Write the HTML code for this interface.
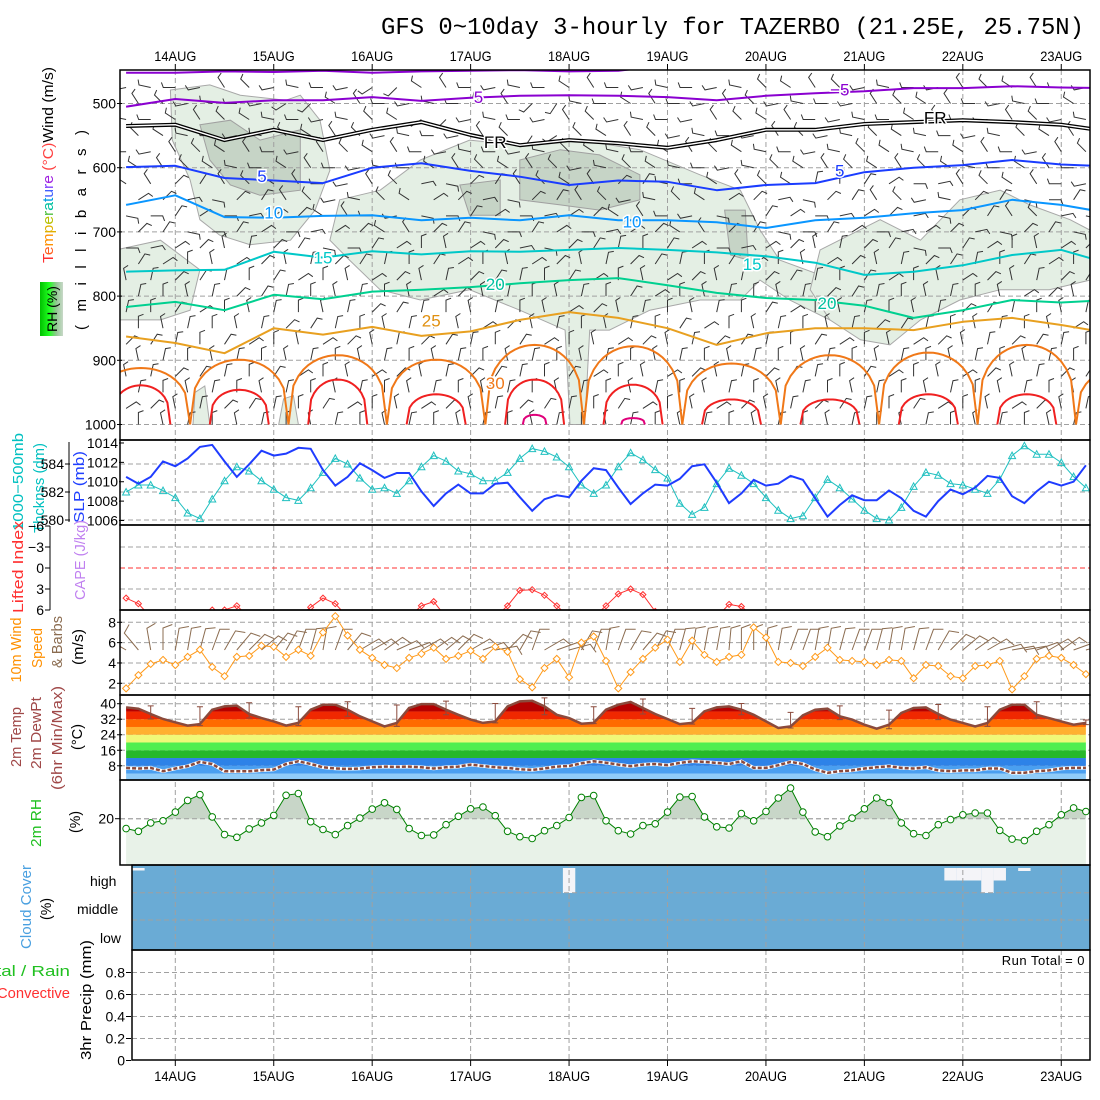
<!DOCTYPE html>
<html><head><meta charset="utf-8"><title>GFS meteogram TAZERBO</title>
<style>
html,body{margin:0;padding:0;background:#fff;}
svg{display:block;font-family:"Liberation Sans",sans-serif;}
</style></head>
<body>
<svg id="chart" xmlns="http://www.w3.org/2000/svg" width="1100" height="1100" viewBox="0 0 1100 1100">
<defs>
<clipPath id="cTop"><rect x="120" y="70" width="970" height="370"/></clipPath>
<clipPath id="cSlp"><rect x="120" y="440" width="970" height="85"/></clipPath>
<clipPath id="cLi"><rect x="120" y="525" width="970" height="85"/></clipPath>
<clipPath id="cW"><rect x="120" y="610" width="970" height="85"/></clipPath>
<clipPath id="cT"><rect x="120" y="695" width="970" height="85"/></clipPath>
<clipPath id="cRH"><rect x="120" y="780" width="970" height="85"/></clipPath>
<clipPath id="cCl"><rect x="132" y="865" width="958" height="85"/></clipPath>
<linearGradient id="rhg" x1="0" y1="0" x2="1" y2="0"><stop offset="0" stop-color="#00c000"/><stop offset="0.4" stop-color="#20ff20"/><stop offset="0.7" stop-color="#90c890"/><stop offset="1" stop-color="#c8d8c8"/></linearGradient>
</defs>
<rect width="1100" height="1100" fill="#fff"/>
<text x="381" y="34" font-family="'Liberation Mono',monospace" font-size="24" textLength="703" lengthAdjust="spacingAndGlyphs" fill="#000">GFS 0~10day 3-hourly for TAZERBO (21.25E, 25.75N)</text>

<g font-size="15">
<text transform="translate(53,165) rotate(-90)" text-anchor="middle" textLength="196" lengthAdjust="spacingAndGlyphs"><tspan fill="#ff3030">T</tspan><tspan fill="#ff6020">e</tspan><tspan fill="#ff9000">m</tspan><tspan fill="#e0b000">p</tspan><tspan fill="#b8c000">e</tspan><tspan fill="#50c040">r</tspan><tspan fill="#00c0a0">a</tspan><tspan fill="#00a0e0">t</tspan><tspan fill="#4060ff">u</tspan><tspan fill="#8040ff">r</tspan><tspan fill="#a020e0">e</tspan><tspan fill="#ff4040"> (°C)</tspan><tspan fill="#000">Wind (m/s)</tspan></text>
<text transform="translate(86,230) rotate(-90)" text-anchor="middle" textLength="200" lengthAdjust="spacing">( m i l l i b a r s )</text>
<rect x="40" y="282" width="23" height="54" fill="url(#rhg)"/>
<text transform="translate(57,309) rotate(-90)" text-anchor="middle" font-size="14">RH (%)</text>
</g>
<g font-size="15">
<text transform="translate(23,482) rotate(-90)" text-anchor="middle" fill="#00c0c0" textLength="98" lengthAdjust="spacingAndGlyphs">1000−500mb</text>
<text transform="translate(44,488) rotate(-90)" text-anchor="middle" fill="#00c0c0" textLength="90" lengthAdjust="spacingAndGlyphs">Thcknss (dm)</text>
<text transform="translate(84,487) rotate(-90)" text-anchor="middle" fill="#2040ff" textLength="72" lengthAdjust="spacingAndGlyphs">SLP (mb)</text>
<text transform="translate(23,567) rotate(-90)" text-anchor="middle" fill="#ff3030" textLength="92" lengthAdjust="spacingAndGlyphs">Lifted Index</text>
<text transform="translate(85,560) rotate(-90)" text-anchor="middle" fill="#c080f0" textLength="80" lengthAdjust="spacingAndGlyphs">CAPE (J/kg)</text>
<text transform="translate(21,650) rotate(-90)" text-anchor="middle" fill="#ff9000" textLength="65" lengthAdjust="spacingAndGlyphs">10m Wind</text>
<text transform="translate(42,648) rotate(-90)" text-anchor="middle" fill="#ff9000" textLength="40" lengthAdjust="spacingAndGlyphs">Speed</text>
<text transform="translate(62,642) rotate(-90)" text-anchor="middle" fill="#8b6c50" textLength="52" lengthAdjust="spacingAndGlyphs">&amp; Barbs</text>
<text transform="translate(83,647) rotate(-90)" text-anchor="middle" fill="#000" textLength="36" lengthAdjust="spacingAndGlyphs">(m/s)</text>
<text transform="translate(21,737) rotate(-90)" text-anchor="middle" fill="#a04848" textLength="60" lengthAdjust="spacingAndGlyphs">2m Temp</text>
<text transform="translate(41,733) rotate(-90)" text-anchor="middle" fill="#a04848" textLength="72" lengthAdjust="spacingAndGlyphs">2m DewPt</text>
<text transform="translate(62,738) rotate(-90)" text-anchor="middle" fill="#a04848" textLength="104" lengthAdjust="spacingAndGlyphs">(6hr Min/Max)</text>
<text transform="translate(82,737) rotate(-90)" text-anchor="middle" fill="#000" textLength="26" lengthAdjust="spacingAndGlyphs">(°C)</text>
<text transform="translate(41,823) rotate(-90)" text-anchor="middle" fill="#20c020" textLength="48" lengthAdjust="spacingAndGlyphs">2m RH</text>
<text transform="translate(80,822) rotate(-90)" text-anchor="middle" fill="#000" textLength="22" lengthAdjust="spacingAndGlyphs">(%)</text>
<text transform="translate(31,907) rotate(-90)" text-anchor="middle" fill="#4aa0e0" textLength="84" lengthAdjust="spacingAndGlyphs">Cloud Cover</text>
<text transform="translate(51,909) rotate(-90)" text-anchor="middle" fill="#000" textLength="22" lengthAdjust="spacingAndGlyphs">(%)</text>
<text x="-4" y="976" fill="#20c020" textLength="74" lengthAdjust="spacingAndGlyphs">tal / Rain</text>
<text x="-3" y="998" fill="#ff3030" textLength="73" lengthAdjust="spacingAndGlyphs">Convective</text>
<text transform="translate(91,1000) rotate(-90)" text-anchor="middle" fill="#000" textLength="120" lengthAdjust="spacingAndGlyphs">3hr Precip (mm)</text>
<text x="90" y="886" font-size="14">high</text>
<text x="77" y="914" font-size="14">middle</text>
<text x="100" y="943" font-size="14">low</text>
<text x="1085" y="965" text-anchor="end" font-size="13" letter-spacing="0.5">Run Total = 0</text>
</g>
<g id="layer"></g>
</svg>
<script>
// ---------- data ----------
const stepHours = 3;
const slp = [1010.5,1009.8,1010.5,1012.1,1011.6,1012.4,1013.6,1013.8,1012.1,1010.5,1011.8,1013.2,1012.7,1012.9,1013.5,1013.4,1011.2,1009.6,1010.5,1011.9,1011.2,1010.4,1010.9,1010.9,1009.0,1007.5,1008.8,1009.7,1008.8,1008.8,1009.8,1009.9,1008.4,1007.0,1008.2,1008.6,1008.4,1010.1,1011.4,1011.2,
1009.4,1007.7,1008.8,1009.7,1009.6,1010.3,1011.6,1011.8,1009.9,1007.8,1008.8,1010.2,1009.6,1009.8,1010.6,1010.2,1008.3,1006.4,1007.6,1008.6,1008.1,1008.1,1009.1,1008.3,1007.0,1006.4,1008.0,1009.2,1008.7,1009.4,1010.6,1010.4,1008.5,1007.8,1009.0,1010.0,1009.6,1010.0,1011.7];
const thick = [582.0,582.5,582.5,582.1,581.6,580.5,580.1,581.5,582.8,583.8,583.5,582.8,582.2,581.6,581.4,582.3,583.4,584.4,584.0,583.0,582.2,582.3,581.9,582.8,583.8,584.6,584.2,583.5,583.3,582.8,582.8,583.4,584.4,585.1,584.9,584.5,583.8,582.5,581.9,582.5,
583.8,584.8,584.3,583.6,583.0,581.2,580.4,580.9,582.6,583.7,583.2,582.6,581.6,580.7,580.1,580.3,581.6,582.9,582.3,581.5,580.7,580.1,580.0,580.9,582.4,583.4,583.2,582.6,582.5,582.2,581.9,582.9,584.6,585.3,584.7,584.7,584.1,583.1,582.3];
const liftedIndex = [4.3,5.1,7,7,7,7,7,6.0,6.0,5.4,7,7,7,7,7,5.6,4.3,5.1,7,7,7,7,7,7,5.4,4.8,7,7,7,7,7,5.4,3.2,3.1,3.9,5.4,7,7,7,5.4,
3.7,3.0,3.8,6.2,7,7,7,7,7,5.2,5.5,7,7,7,7,7,7,7,7,7,7,7,7,7,7,7,7,7,7,7,7,7,7,7,7,7,7,7,7];
const windSpeed = [1.5,2.8,3.9,4.3,3.8,4.6,5.3,3.6,2.7,4.6,4.7,5.7,5.6,4.6,5.3,4.7,7.0,8.6,6.7,5.3,4.5,3.8,3.5,4.5,4.9,5.5,4.4,4.7,5.2,4.4,5.6,5.1,2.4,1.6,3.5,4.4,2.6,6.0,6.6,4.2,
1.5,3.1,4.4,5.5,6.3,4.1,6.2,4.8,4.1,4.6,4.8,7.5,6.5,4.1,4.0,3.7,4.6,5.5,4.3,4.2,4.1,3.8,4.3,4.2,2.5,3.8,3.7,2.7,2.5,3.7,3.8,4.2,1.4,2.7,4.4,4.7,4.5,3.8,2.9];
const windDir10 = [300,320,350,0,10,10,15,20,30,40,45,50,40,30,20,15,10,20,40,60,60,55,65,70,60,55,50,45,60,70,80,45,30,20,60,70,75,30,20,10,
20,30,40,30,20,15,10,10,10,5,0,0,5,10,20,20,10,10,15,20,20,15,10,10,15,20,30,45,50,55,60,75,80,80,70,60,55,70,75];
const temp2m = [38.1,37.4,34.7,32.1,30.4,28.7,29.5,36.9,38.6,39.0,34.7,32.6,30.9,28.7,30.1,36.9,39.5,39.5,36.9,33.5,30.9,28.3,30.1,37.8,39.8,39.8,36.9,34.3,31.8,30.1,30.9,38.6,41.2,41.5,38.6,34.3,32.6,29.7,30.1,36.9,
39.5,40.9,37.8,34.7,32.1,29.5,30.1,36.1,38.1,38.6,36.9,34.3,30.9,27.5,28.3,34.0,36.9,37.4,33.5,31.8,29.2,27.1,29.2,35.2,37.8,38.1,34.7,31.8,30.1,28.3,30.1,36.9,39.5,39.5,34.3,32.6,30.9,29.2,30.1];
const dew2m = [6.9,6.6,6.9,5.2,6.6,7.8,10.0,8.9,5.2,5.2,5.2,5.7,6.1,8.9,10.3,8.9,7.2,6.6,6.4,6.6,7.2,7.6,7.4,7.6,7.2,6.6,7.2,7.6,8.6,7.9,7.2,6.9,6.2,5.9,6.6,7.6,7.9,9.3,10.3,9.6,
8.6,7.8,8.6,8.9,8.3,9.5,10.3,10.0,9.5,8.9,10.3,6.9,6.9,8.3,10.0,8.9,6.1,4.4,5.2,5.6,6.6,7.2,7.8,6.9,6.6,7.2,5.6,5.2,5.6,5.6,6.6,6.6,4.4,4.4,5.2,5.6,6.6,6.9,6.9];
const rh2m = [16.7,15.8,18.6,19.3,22.2,26.1,28.0,20.6,14.7,13.8,16.6,18.6,21.1,27.8,28.4,19.0,16.4,14.7,17.7,20.2,23.2,25.3,23.1,16.7,14.4,14.6,18.0,20.8,23.3,23.9,21.0,15.8,14.0,13.4,16.0,17.7,20.4,27.1,27.7,19.3,
16.0,14.9,17.7,18.3,22.2,27.2,27.4,20.6,17.3,16.9,21.7,19.3,22.4,26.9,30.2,22.2,15.6,14.0,17.6,20.2,23.3,26.9,25.4,18.6,15.0,14.4,18.0,19.7,21.3,21.9,21.9,16.1,13.2,12.7,15.8,18.0,21.3,23.6,22.4];
const highCloudGap = [0.1,0.1,0,0,0,0,0,0,0,0,0,0,0,0,0,0,0,0,0,0,0,0,0,0,0,0,0,0,0,0,0,0,0,0,0,0,1,0,0,0,
0,0,0,0,0,0,0,0,0,0,0,0,0,0,0,0,0,0,0,0,0,0,0,0,0,0,0,0.5,0.5,0.5,1,0.5,0,0.12,0,0,0,0,0];
const dayLabels = ["14AUG","15AUG","16AUG","17AUG","18AUG","19AUG","20AUG","21AUG","22AUG","23AUG"];
const presTicks = [500,600,700,800,900,1000];
const slpTicks = [1014,1012,1010,1008,1006];
const thickTicks = [584,582,580];
const liTicks = [-6,-3,0,3,6];
const windTicks = [8,6,4,2];
const tempTicks = [40,32,24,16,8];
const tempBandEdges = [0,4,8,12,16,20,24,28,32,36,45];
const precipTicks = [0,0.2,0.4,0.6,0.8];
const isoM5top = [452,452,450,451,449,452,450,449,448,450,449,440,430,430,430,430,430,430,430,430,430];
const isoM5 = [505,493,499,495,495,490,496,491,488,487,488,490,495,488,484,481,476,476,473,475,476];
const isoFR = [535,533,557,541,557,541,529,549,565,557,562,569,557,541,541,532,529,526,529,533,544];
const iso5 = [599,597,616,620,624,600,593,605,614,627,620,622,635,627,624,607,600,596,588,595,598];
const iso10 = [658,643,677,678,675,674,682,678,682,674,682,682,685,694,682,678,671,666,650,658,671];
const iso15 = [762,760,759,731,740,730,735,730,731,728,725,728,732,738,748,767,762,752,736,728,750];
const iso20 = [817,809,822,798,805,793,790,786,780,775,772,783,795,803,806,815,834,822,806,810,806];
const iso25 = [863,873,889,850,860,848,862,855,837,825,834,850,876,858,850,850,853,840,834,845,858];
const dome30Top = [912,899,892,899,876,878,905,892,888,876,910];
const dome35Top = [939,946,930,953,930,938,961,961,953,953,1010];
const dome40Top = [1010,1010,1010,1010,985,990,1010,1010,1010,1010,1010];
const rhLight = [
 [[-0.05,479],[0.35,471],[0.66,487],[1.12,495],[1.27,487],[1.47,526],[1.57,604],[1.42,666],[1.17,713],[0.76,720],[0.45,705],[0.25,681],[0.15,619],[-0.03,557]],
 [[1.67,650],[2.08,635],[2.49,588],[2.99,557],[3.50,565],[4.11,557],[4.72,572],[5.33,611],[5.74,635],[5.94,697],[6.14,744],[6.55,767],[6.75,806],[6.65,837],[6.24,806],[5.94,775],[5.74,806],[5.33,806],[4.82,822],[4.41,853],[4.21,853],[4.16,1000],[4.01,1000],[3.96,853],[3.50,822],[2.99,790],[2.49,806],[2.08,790],[1.77,744],[1.57,713]],
 [[-0.6,728],[-0.15,713],[0.25,759],[0.15,822],[-0.15,837],[-0.6,837]],
 [[6.55,728],[7.16,681],[7.57,713],[7.97,650],[8.38,635],[8.68,658],[9.09,681],[9.29,697],[9.29,775],[8.88,790],[8.38,790],[7.97,806],[7.57,837],[7.26,876],[6.96,868],[6.65,837],[6.45,790]],
 [[0.2,950],[0.3,940],[0.35,1000],[0.18,1000]],
 [[1.1,960],[1.2,955],[1.25,1000],[1.05,1000]]
];
const rhDark = [
 [[0.25,533],[0.56,526],[0.86,557],[1.27,541],[1.27,635],[0.86,643],[0.56,627],[0.35,588]],
 [[2.89,627],[3.3,619],[3.3,674],[2.99,674]],
 [[3.5,588],[3.91,572],[4.31,580],[4.72,611],[4.72,650],[4.31,666],[3.91,658],[3.5,650]],
 [[5.58,666],[5.79,666],[5.82,744],[5.64,736]]
];
const barbLevels = [475,500,525,550,575,600,625,650,675,700,725,750,775,800,825,850,875,900,925,950,975,1000];
const barbCodes = [
"66766576676667766776","76657667567676677667","67766756676677667676","76677667577667676677",
"67767766676776676767","77676677767667777676","71776721771677012776","12176712176712176121",
"21217621217621212172","12121712121712121212","21012101210121012101","10101010101010101010",
"01010101010101010101","00100010001000100010","01000100010001000100","00010001000100010001",
"10101010101010101010","00000000000000000000","01010101010101010101","00000000000000000000",
"10101010101010101010","00000000000000000000"];

// ---------- axes ----------
const NS = "http://www.w3.org/2000/svg";
const layer = document.getElementById('layer');
const xH = h => 126.1 + h * 4.1017;
const xI = i => xH(i * stepHours);
const xD = d => 175.3 + d * 98.44;
const yP = p => 103.5 + (p - 500) * 0.642;
const ySlp = v => 520.5 - (v - 1006) * 9.69;
const yTh = v => 520 - (v - 580) * 14;
const yLi = v => 568 + v * 7;
const yW = v => 683.3 - (v - 2) * 10.17;
const yT = v => 703.7 + (40 - v) * 1.94;
const yRH = v => 818.7 - (v - 20) * 3;
const yPr = v => 1060.5 - v * 110;

function mk(tag, attrs, parent) {
  const e = document.createElementNS(NS, tag);
  for (const k in attrs) e.setAttribute(k, attrs[k]);
  (parent || layer).appendChild(e);
  return e;
}
function grp(name, clip) {
  const g = mk('g', clip ? {'clip-path': 'url(#' + clip + ')'} : {});
  
  
  return g;
}
function line(pts, attrs, parent) {
  return mk('polyline', Object.assign({points: pts.map(p => p[0].toFixed(1) + ',' + p[1].toFixed(1)).join(' '), fill: 'none'}, attrs), parent);
}

// ---------- cloud panel ----------
const gCloud = grp('cloud-cover-panel', 'cCl');
const cloudBg = mk('rect', {x: 132, y: 865, width: 958, height: 85, fill: '#6aabd5'}, gCloud);


highCloudGap.forEach((v, i) => {
  if (v <= 0) return;
  const r = mk('rect', {x: xI(i) - 6.2, y: 868, width: 12.4, height: 25 * v, fill: '#f4f4f8'}, gCloud);
  
  
});

// ---------- RH shading (top) ----------
const gTop = grp('upper-air-panel', 'cTop');
rhLight.forEach(poly => {
  const e = mk('polygon', {points: poly.map(p => xD(p[0]).toFixed(1) + ',' + yP(p[1]).toFixed(1)).join(' '), fill: '#e4efe4', stroke: '#a8a8a8', 'stroke-width': 1}, gTop);
  
  
});
rhDark.forEach(poly => {
  const e = mk('polygon', {points: poly.map(p => xD(p[0]).toFixed(1) + ',' + yP(p[1]).toFixed(1)).join(' '), fill: '#c6d4c6', stroke: '#a0a0a0', 'stroke-width': 1}, gTop);
  
  
});

// ---------- grids ----------
const gGrid = grp('grid-lines');
for (let k = 0; k < dayLabels.length; k++) {
  const gl = mk('line', {x1: xD(k), x2: xD(k), y1: 70, y2: 1060, stroke: '#a0a0a0', 'stroke-dasharray': '5,3', 'stroke-width': 1}, gGrid);
  
  
}
function hgrid(y, x0) {
  const gl = mk('line', {x1: x0 || 120, x2: 1090, y1: y, y2: y, stroke: '#a0a0a0', 'stroke-dasharray': '5,3'}, gGrid);
  
  
}
presTicks.forEach(p => hgrid(yP(p)));
thickTicks.forEach(v => hgrid(yTh(v)));
[-3, 3].forEach(v => hgrid(yLi(v)));
windTicks.forEach(v => hgrid(yW(v)));
tempTicks.forEach(v => hgrid(yT(v)));
hgrid(yRH(20));
hgrid(892.7, 132); hgrid(920, 132);
precipTicks.slice(1).forEach(v => hgrid(yPr(v), 132));
const liZero = mk('line', {x1: 120, x2: 1090, y1: yLi(0), y2: yLi(0), stroke: '#ff3030', 'stroke-dasharray': '5,3'}, gGrid);



// ---------- upper barbs ----------
function barb(x, y, deg, len, col, parent, name) {
  const a = deg * Math.PI / 180;
  const ex = x + len * Math.sin(a), ey = y - len * Math.cos(a);
  const fa = a + Math.PI / 2.6;
  const fx = ex + len * 0.45 * Math.sin(fa), fy = ey - len * 0.45 * Math.cos(fa);
  const e = mk('polyline', {points: `${x.toFixed(1)},${y.toFixed(1)} ${ex.toFixed(1)},${ey.toFixed(1)} ${fx.toFixed(1)},${fy.toFixed(1)}`, fill: 'none', stroke: col, 'stroke-width': 1}, parent);
  
  
}
const gBarbs = grp('upper-wind-barbs', 'cTop');
barbLevels.forEach((p, li) => {
  for (let i = (li % 2); i < 79; i += 2) {
    const code = +barbCodes[li][Math.min(19, Math.floor(i / 4))];
    const jitter = ((i + li) % 3 - 1) * 12;
    barb(xI(i), yP(p), code * 45 + jitter, 12, '#333', gBarbs, 'upper-wind-barb');
  }
});

// ---------- isotherms ----------
const gIso = grp('isotherms', 'cTop');
function isoLine(arr, col, w, name) {
  const pts = arr.map((p, i) => [xH(i * 12), yP(p)]);
  const e = line(pts, {stroke: col, 'stroke-width': w, 'stroke-linejoin': 'round'}, gIso);
  
  
  return pts;
}
isoLine(isoM5top, '#8a00d0', 2, 'isotherm-minus5-upper');
isoLine(isoM5, '#8a00d0', 2, 'isotherm-minus5');
isoLine(isoFR, '#000', 4, 'freezing-level-outer');
isoLine(isoFR, '#fff', 1.4, 'freezing-level-inner');
isoLine(iso5, '#1a3cff', 2, 'isotherm-5');
isoLine(iso10, '#0a96ff', 2, 'isotherm-10');
isoLine(iso15, '#00c8c8', 2, 'isotherm-15');
isoLine(iso20, '#00d090', 2, 'isotherm-20');
isoLine(iso25, '#e8a020', 2, 'isotherm-25');
function domes(tops, hw, col, name) {
  tops.forEach((pt, k) => {
    if (pt >= 1000) return;
    const dc = k - 1 + 0.65;
    const pts = [];
    for (let s = -1; s <= 1.0001; s += 0.1) {
      pts.push([xD(dc + s * hw), yP(1000 - (1000 - pt) * Math.pow(Math.max(0, 1 - s * s), 0.35))]);
    }
    const e = line(pts, {stroke: col, 'stroke-width': 2}, gIso);
    
    
  });
}
domes(dome30Top, 0.5, '#f07818', 'isotherm-30-dome');
domes(dome35Top, 0.3, '#f02020', 'isotherm-35-dome');
domes(dome40Top, 0.12, '#e0007a', 'isotherm-40-dome');
function isoLabel(t, d, p, col) {
  const e = mk('text', {x: xD(d), y: yP(p) + 6, fill: col, 'font-size': 17, 'text-anchor': 'middle', stroke: '#fff', 'stroke-width': 3, 'paint-order': 'stroke'}, gIso);
  e.textContent = t;
  
  
}
isoLabel('5', 3.08, 490, '#8a00d0'); isoLabel('−5', 6.75, 478, '#8a00d0');
isoLabel('FR', 3.25, 560, '#000'); isoLabel('FR', 7.72, 522, '#000');
isoLabel('5', 0.88, 613, '#1a3cff'); isoLabel('5', 6.75, 604, '#1a3cff');
isoLabel('10', 1.0, 670, '#0a96ff'); isoLabel('10', 4.64, 684, '#0a96ff');
isoLabel('15', 1.5, 740, '#00c8c8'); isoLabel('15', 5.86, 750, '#00c8c8');
isoLabel('20', 3.25, 781, '#00c0a0'); isoLabel('20', 6.62, 811, '#00c0a0');
isoLabel('25', 2.6, 838, '#e09010'); isoLabel('30', 3.25, 935, '#f07818');

// ---------- SLP / thickness ----------
const gSlp = grp('slp-thickness-panel', 'cSlp');
const thPts = thick.map((v, i) => [xI(i), yTh(v)]);
const thL = line(thPts, {stroke: '#20c0c0', 'stroke-width': 1}, gSlp);


thPts.forEach(p => {
  const m = mk('polygon', {points: `${p[0]},${p[1]-3.5} ${p[0]-3.5},${p[1]+3} ${p[0]+3.5},${p[1]+3}`, fill: 'none', stroke: '#20c0c0'}, gSlp);
  
  
});
const slpL = line(slp.map((v, i) => [xI(i), ySlp(v)]), {stroke: '#1f3cff', 'stroke-width': 2}, gSlp);



// ---------- lifted index ----------
const gLi = grp('lifted-index-panel', 'cLi');
const liPts = liftedIndex.map((v, i) => [xI(i), yLi(v)]);
const liL = line(liPts, {stroke: '#ff3030', 'stroke-width': 1}, gLi);


liPts.forEach(p => {
  const m = mk('polygon', {points: `${p[0]},${p[1]-3} ${p[0]+3},${p[1]} ${p[0]},${p[1]+3} ${p[0]-3},${p[1]}`, fill: 'none', stroke: '#ff3030'}, gLi);
  
  
});

// ---------- 10m wind ----------
const gW = grp('wind-10m-panel', 'cW');
windDir10.forEach((d, i) => barb(xI(i), 650, d, 22, '#8b6c50', gW, 'wind-10m-barb'));
const wPts = windSpeed.map((v, i) => [xI(i), yW(v)]);
const wL = line(wPts, {stroke: '#ff9a1a', 'stroke-width': 1}, gW);


wPts.forEach(p => {
  const m = mk('polygon', {points: `${p[0]},${p[1]-3.5} ${p[0]+3.5},${p[1]} ${p[0]},${p[1]+3.5} ${p[0]-3.5},${p[1]}`, fill: '#fff', stroke: '#ff9a1a'}, gW);
  
  
});

// ---------- temperature ----------
const gT = grp('temperature-panel', 'cT');
const tPts = temp2m.map((v, i) => [xI(i), yT(v)]);
const cp = mk('clipPath', {id: 'tArea'}, document.querySelector('defs'));
mk('polygon', {points: [[tPts[0][0], 781]].concat(tPts, [[tPts[tPts.length-1][0], 781]]).map(p => p[0].toFixed(1) + ',' + p[1].toFixed(1)).join(' ')}, cp);
const bandCols = ['#90ccf8','#4a9ff0','#2d82e8','#26b82a','#50ee50','#f0f878','#ffb030','#ff6a00','#f02800','#b40000'];
const gBands = mk('g', {'clip-path': 'url(#tArea)'}, gT);


for (let b = 0; b < bandCols.length; b++) {
  const y1 = yT(tempBandEdges[b + 1]), y0 = yT(tempBandEdges[b]);
  const r = mk('rect', {x: 120, y: y1, width: 970, height: y0 - y1, fill: bandCols[b]}, gBands);
  
  
}
const tL = line(tPts, {stroke: '#8b4a3c', 'stroke-width': 2.5}, gT);


for (let i = 2; i < temp2m.length; i += 4) {
  const hi = Math.max(temp2m[i-1], temp2m[i], temp2m[i+1] || temp2m[i]) + 1.5;
  const lo = Math.min(temp2m[i-1], temp2m[i], temp2m[i+1] || temp2m[i]);
  const x = xI(i);
  const e = mk('path', {d: `M${x-3},${yT(hi)}H${x+3}M${x},${yT(hi)}V${yT(lo)}M${x-3},${yT(lo)}H${x+3}`, stroke: '#8b4a3c', fill: 'none'}, gT);
  
  
}
const dPts = dew2m.map((v, i) => [xI(i), yT(v)]);
const dW = line(dPts, {stroke: '#fff', 'stroke-width': 3.5}, gT);


const dL = line(dPts, {stroke: '#8b4a3c', 'stroke-width': 2.5, 'stroke-dasharray': '4,2'}, gT);



// ---------- RH 2m ----------
const gR = grp('rh-2m-panel', 'cRH');
const rPts = rh2m.map((v, i) => [xI(i), yRH(v)]);
const areaPts = [[rPts[0][0], 865]].concat(rPts, [[rPts[rPts.length-1][0], 865]]);
const cp2 = mk('clipPath', {id: 'rhArea'}, document.querySelector('defs'));
mk('polygon', {points: areaPts.map(p => p[0].toFixed(1) + ',' + p[1].toFixed(1)).join(' ')}, cp2);
const rA = mk('rect', {x: 120, y: 780, width: 970, height: 85, fill: '#e8f2e8', 'clip-path': 'url(#rhArea)'}, gR);


const rA2 = mk('rect', {x: 120, y: 780, width: 970, height: yRH(20) - 780, fill: '#c8d6c8', 'clip-path': 'url(#rhArea)'}, gR);


const rhG = mk('line', {x1: 120, x2: 1090, y1: yRH(20), y2: yRH(20), stroke: '#a0a0a0', 'stroke-dasharray': '5,3'}, gR);


const rL = line(rPts, {stroke: '#008000', 'stroke-width': 1}, gR);


rPts.forEach(p => {
  const c = mk('circle', {cx: p[0], cy: p[1], r: 3.3, fill: '#fff', stroke: '#008000'}, gR);
  
  
});

// ---------- frames & ticks ----------
const gF = grp('frames-and-ticks');
[[120,70,970,370],[120,440,970,85],[120,525,970,85],[120,610,970,85],[120,695,970,85],[120,780,970,85],[132,865,958,85],[132,950,958,110]].forEach(r => {
  const e = mk('rect', {x: r[0], y: r[1], width: r[2], height: r[3], fill: 'none', stroke: '#000', 'stroke-width': 1.5}, gF);
  
  
});
function tickLabel(txt, x, y, anchor, size) {
  const e = mk('text', {x: x, y: y + 5, 'text-anchor': anchor || 'end', 'font-size': size || 14}, gF);
  e.textContent = txt;
  
  
  mk('line', {x1: x + 1, x2: x + 6, y1: y, y2: y, stroke: '#000'}, gF);
}
presTicks.forEach(p => tickLabel(String(p), 116, yP(p)));
slpTicks.forEach(v => tickLabel(String(v), 118, ySlp(v)));
thickTicks.forEach(v => tickLabel(String(v), 64, yTh(v)));
mk('line', {x1: 69, x2: 69, y1: 442, y2: 522, stroke: '#000'}, gF);
liTicks.forEach(v => tickLabel(String(v).replace('-', '−'), 44, yLi(v)));
mk('line', {x1: 50, x2: 50, y1: 526, y2: 610, stroke: '#000'}, gF);
windTicks.forEach(v => tickLabel(String(v), 116, yW(v)));
tempTicks.forEach(v => tickLabel(String(v), 116, yT(v)));
tickLabel('20', 114, yRH(20));
precipTicks.forEach(v => tickLabel(v === 0 ? '0' : v.toFixed(1), 125, yPr(v)));
dayLabels.forEach((t, k) => {
  const x = xD(k);
  const a = mk('text', {x: x, y: 61, 'text-anchor': 'middle', 'font-size': 14, textLength: 42, lengthAdjust: 'spacingAndGlyphs'}, gF);
  a.textContent = t;
  
  
  const b = mk('text', {x: x, y: 1081, 'text-anchor': 'middle', 'font-size': 14, textLength: 42, lengthAdjust: 'spacingAndGlyphs'}, gF);
  b.textContent = t;
  
  
  mk('line', {x1: x, x2: x, y1: 70, y2: 64, stroke: '#000'}, gF);
  mk('line', {x1: x, x2: x, y1: 1060, y2: 1066, stroke: '#000'}, gF);
});
</script>
</body></html>
